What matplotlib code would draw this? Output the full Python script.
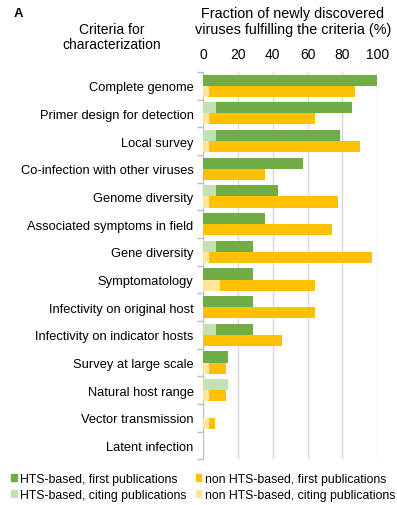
import matplotlib
matplotlib.use("Agg")
import matplotlib.pyplot as plt
import numpy as np
from matplotlib.patches import Patch

plt.rcParams['font.family'] = ['Liberation Sans', 'DejaVu Sans']

categories = ["Complete genome", "Primer design for detection", "Local survey",
              "Co-infection with other viruses", "Genome diversity",
              "Associated symptoms in field", "Gene diversity", "Symptomatology",
              "Infectivity on original host", "Infectivity on indicator hosts",
              "Survey at large scale", "Natural host range", "Vector transmission",
              "Latent infection"]
hts_citing = [0, 7.1, 7.1, 0, 7.1, 0, 7.1, 0, 0, 7.1, 0, 14.3, 0, 0]
hts_first = [100, 78.6, 71.4, 57.1, 35.7, 35.7, 21.4, 28.6, 28.6, 21.4, 14.3, 0, 0, 0]
non_citing = [3.2, 3.2, 3.2, 0, 3.2, 0, 3.2, 9.7, 0, 0, 3.2, 3.2, 3.2, 0]
non_first = [83.9, 61.3, 87.1, 35.5, 74.2, 74.2, 93.6, 54.8, 64.5, 45.2, 9.7, 9.7, 3.3, 0]
xticks = [0, 20, 40, 60, 80, 100]

c_hts_first = "#70AD47"
c_hts_cit = "#C5E0B4"
c_non_first = "#FFC000"
c_non_cit = "#FFE699"

fig = plt.figure(figsize=(3.97, 5.06), dpi=100)
ax = fig.add_axes([0.512, 0.090, 0.438, 0.766])

n = len(categories)
y = np.arange(n)
h = 0.4
yg = y - h / 2
yo = y + h / 2
ax.barh(yg, hts_citing, height=h, color=c_hts_cit, zorder=3)
ax.barh(yg, hts_first, left=hts_citing, height=h, color=c_hts_first, zorder=3)
ax.barh(yo, non_citing, height=h, color=c_non_cit, zorder=3)
ax.barh(yo, non_first, left=non_citing, height=h, color=c_non_first, zorder=3)

ax.set_xlim(0, 100)
ax.set_ylim(n - 0.5, -0.5)
ax.xaxis.tick_top()
ax.set_xticks(xticks)
ax.tick_params(axis='x', length=0, labelsize=10, pad=8)
ax.set_yticks(y)
ax.set_yticklabels(categories, fontsize=9.3)
ax.tick_params(axis='y', length=0, pad=7)
ax.set_yticks(np.arange(n + 1) - 0.5, minor=True)
ax.tick_params(axis='y', which='minor', length=4, color='#BFBFBF', width=1)
ax.grid(axis='x', color='#D9D9D9', linewidth=1, zorder=0)
for s in ['top', 'right', 'bottom']:
    ax.spines[s].set_visible(False)
ax.spines['left'].set_color('#BFBFBF')

fig.text(0.738, 0.956, "Fraction of newly discovered\nviruses fulfilling the criteria (%)",
         ha='center', va='center', fontsize=10.4, linespacing=1.15)
fig.text(0.281, 0.926, "Criteria for\ncharacterization", ha='center', va='center',
         fontsize=10, linespacing=1.15)
fig.text(0.035, 0.972, "A", ha='left', va='center', fontsize=9.5, fontweight='bold')

handles = [Patch(color=c_hts_first), Patch(color=c_hts_cit),
           Patch(color=c_non_first), Patch(color=c_non_cit)]
labels = ["HTS-based, first publications", "HTS-based, citing publications",
          "non HTS-based, first publications", "non HTS-based, citing publications"]
fig.legend(handles, labels, loc='upper left', bbox_to_anchor=(0.028, 0.064), ncol=2,
           frameon=False, fontsize=8.8, handlelength=0.45, handleheight=0.45,
           handletextpad=0.25, columnspacing=0.8, labelspacing=0.35,
           borderpad=0, borderaxespad=0)

fig.savefig("out.png", dpi=100)
